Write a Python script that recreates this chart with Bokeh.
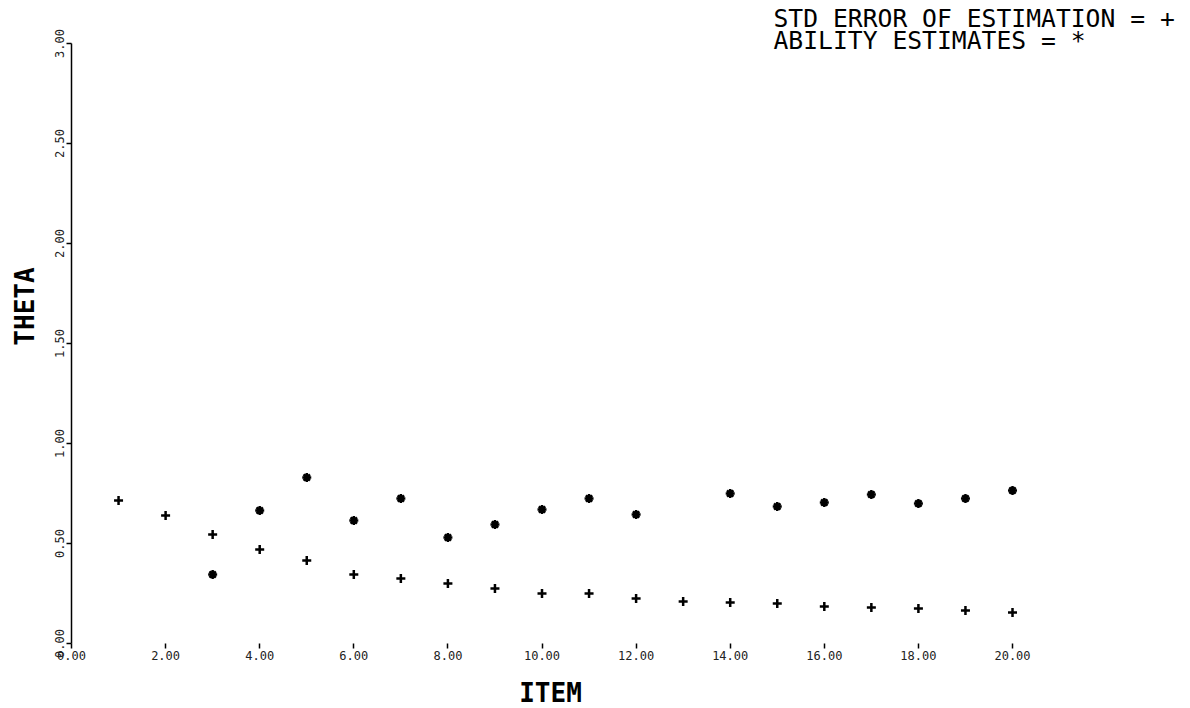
import math

from bokeh.plotting import figure
from bokeh.models import Range1d, FixedTicker, PrintfTickFormatter, Label
from bokeh.embed import file_html
from bokeh.resources import INLINE

# Item number after which each estimate was made
items = list(range(1, 21))

# Standard error of the ability estimate after each item
std_error = [0.715, 0.64, 0.545, 0.47, 0.415, 0.345, 0.325, 0.30, 0.275, 0.25,
             0.25, 0.225, 0.21, 0.205, 0.20, 0.185, 0.18, 0.175, 0.165, 0.155]

# Ability (theta) estimates; not available for every item
ability_items = [3, 4, 5, 6, 7, 8, 9, 10, 11, 12, 14, 15, 16, 17, 18, 19, 20]
ability = [0.345, 0.665, 0.83, 0.615, 0.725, 0.53, 0.595, 0.67, 0.725, 0.645,
           0.75, 0.685, 0.705, 0.745, 0.70, 0.725, 0.765]

x_ticks = [0, 2, 4, 6, 8, 10, 12, 14, 16, 18, 20]
y_ticks = [0.0, 0.5, 1.0, 1.5, 2.0, 2.5, 3.0]

MONO = "DejaVu Sans Mono"

# The frame fills the whole page; both axes are pinned at zero so that the
# titles and the symbol key can be placed freely around them.
p = figure(
    width=1190, height=708,
    x_range=Range1d(-1.509, 23.783), y_range=Range1d(-0.325, 3.215),
    output_backend="svg", toolbar_location=None,
    min_border_left=0, min_border_right=0,
    min_border_top=0, min_border_bottom=0,
    background_fill_color="white", border_fill_color="white",
)
p.outline_line_color = None
p.grid.visible = False

# x axis: item number
xa = p.xaxis[0]
xa.fixed_location = 0
xa.ticker = FixedTicker(ticks=x_ticks)
xa.bounds = (0, 20)
xa.formatter = PrintfTickFormatter(format="%.2f")
xa.axis_line_color = None
xa.major_tick_out = 5
xa.major_tick_in = 0
xa.minor_tick_line_color = None
xa.major_tick_line_width = 1.5
xa.major_label_standoff = 2
xa.major_label_text_font = MONO
xa.major_label_text_font_size = "12px"
xa.major_label_text_color = "#222222"

# y axis: theta
ya = p.yaxis[0]
ya.fixed_location = 0
ya.ticker = FixedTicker(ticks=y_ticks)
ya.bounds = (0, 3.0)
ya.formatter = PrintfTickFormatter(format="%.2f")
ya.axis_line_width = 1.5
ya.axis_line_color = "black"
ya.major_tick_out = 5
ya.major_tick_in = 0
ya.major_tick_line_width = 1.5
ya.minor_tick_line_color = None
ya.major_label_orientation = "vertical"
ya.major_label_standoff = 2
ya.major_label_text_font = MONO
ya.major_label_text_font_size = "12px"
ya.major_label_text_color = "#222222"

# plotted series
p.scatter(items, std_error, marker="cross", size=9, line_width=2.5,
          line_color="black")
p.scatter(ability_items, ability, marker="asterisk", size=9, line_width=2.5,
          line_color="black")

# axis titles
p.add_layout(Label(x=10.18, y=-0.245, text="ITEM", text_align="center",
                   text_baseline="alphabetic", text_font=MONO,
                   text_font_style="bold", text_font_size="26px",
                   text_color="black"))
p.add_layout(Label(x=-0.978, y=1.685, text="THETA", angle=math.pi / 2,
                   text_align="center", text_baseline="middle",
                   text_font=MONO, text_font_style="bold",
                   text_font_size="26px", text_color="black"))

# key to the symbols
p.add_layout(Label(x=14.92, y=3.125, text="STD ERROR OF ESTIMATION = +",
                   text_align="left", text_baseline="alphabetic",
                   text_font=MONO, text_font_size="24.7px", text_color="black"))
p.add_layout(Label(x=14.92, y=3.015, text="ABILITY ESTIMATES = *",
                   text_align="left", text_baseline="alphabetic",
                   text_font=MONO, text_font_size="24.7px", text_color="black"))

open("out.html", "w").write(file_html(p, INLINE))
